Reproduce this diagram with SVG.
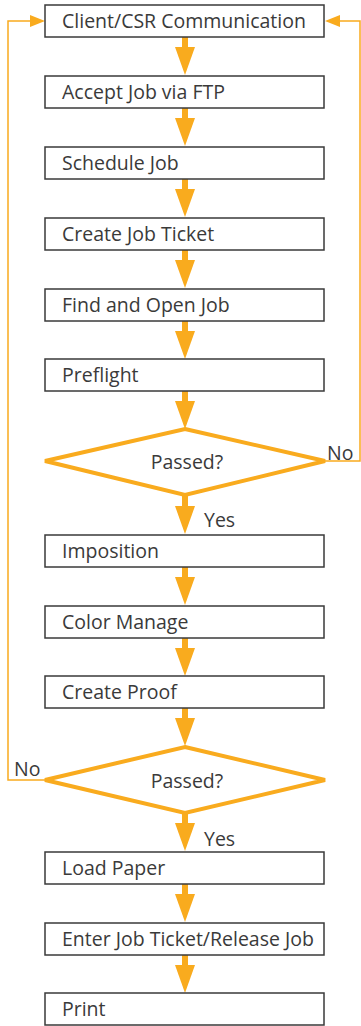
<svg xmlns="http://www.w3.org/2000/svg" width="361" height="1026" viewBox="0 0 361 1026">
<defs>
<style>
.box{fill:#fff;stroke:#3a3a3a;stroke-width:1.5}
.dia{fill:#fff;stroke:#F9AB1E;stroke-width:4;stroke-linejoin:miter}
.t{font-family:"Open Sans","Noto Sans",sans-serif;font-size:19.5px;fill:#3a3a3a}
.c{text-anchor:middle}
.loop{fill:none;stroke:#F9AB1E;stroke-width:1.5}
.arr{fill:#F9AB1E}
</style>
<g id="downarrow"><rect x="-3" y="0" width="6" height="12" class="arr"/><polygon points="-10,10 10,10 0,38" class="arr"/></g>
</defs>
<rect width="361" height="1026" fill="#fff"/>
<g id="connectors">
<use href="#downarrow" x="185" y="37"/>
<use href="#downarrow" x="185" y="108"/>
<use href="#downarrow" x="185" y="179"/>
<use href="#downarrow" x="185" y="250"/>
<use href="#downarrow" x="185" y="321"/>
<use href="#downarrow" x="185" y="391"/>
<use href="#downarrow" x="185" y="496"/>
<use href="#downarrow" x="185" y="567"/>
<use href="#downarrow" x="185" y="638"/>
<use href="#downarrow" x="185" y="708"/>
<use href="#downarrow" x="185" y="813"/>
<use href="#downarrow" x="185" y="884"/>
<use href="#downarrow" x="185" y="955"/>
<polyline class="loop" points="45,780 8,780 8,21 32,21"/>
<polygon class="arr" points="30,15 45,21 30,27"/>
<polyline class="loop" points="325,461 360,461 360,21 338,21"/>
<polygon class="arr" points="340,15 325,21 340,27"/>
<text class="t" x="327" y="460">No</text>
<text class="t" x="14" y="776">No</text>
<text class="t" x="204" y="527">Yes</text>
<text class="t" x="204" y="846">Yes</text>
</g>
<g id="n1"><rect class="box" x="45" y="5" width="279" height="32"/><text class="t" x="62" y="28">Client/CSR Communication</text></g>
<g id="n2"><rect class="box" x="45" y="76" width="279" height="32"/><text class="t" x="62" y="99">Accept Job via FTP</text></g>
<g id="n3"><rect class="box" x="45" y="147" width="279" height="32"/><text class="t" x="62" y="170">Schedule Job</text></g>
<g id="n4"><rect class="box" x="45" y="218" width="279" height="32"/><text class="t" x="62" y="241">Create Job Ticket</text></g>
<g id="n5"><rect class="box" x="45" y="289" width="279" height="32"/><text class="t" x="62" y="312">Find and Open Job</text></g>
<g id="n6"><rect class="box" x="45" y="359" width="279" height="32"/><text class="t" x="62" y="382">Preflight</text></g>
<g id="d1"><polygon class="dia" points="185,429 325,461 185,495 45,461"/><text class="t c" x="187" y="469">Passed?</text></g>
<g id="n7"><rect class="box" x="45" y="535" width="279" height="32"/><text class="t" x="62" y="558">Imposition</text></g>
<g id="n8"><rect class="box" x="45" y="606" width="279" height="32"/><text class="t" x="62" y="629">Color Manage</text></g>
<g id="n9"><rect class="box" x="45" y="676" width="279" height="32"/><text class="t" x="62" y="699">Create Proof</text></g>
<g id="d2"><polygon class="dia" points="185,747 325,780 185,813 45,780"/><text class="t c" x="187" y="788">Passed?</text></g>
<g id="n10"><rect class="box" x="45" y="852" width="279" height="32"/><text class="t" x="62" y="875">Load Paper</text></g>
<g id="n11"><rect class="box" x="45" y="923" width="279" height="32"/><text class="t" x="62" y="946">Enter Job Ticket/Release Job</text></g>
<g id="n12"><rect class="box" x="45" y="993" width="279" height="32"/><text class="t" x="62" y="1016">Print</text></g>
</svg>
